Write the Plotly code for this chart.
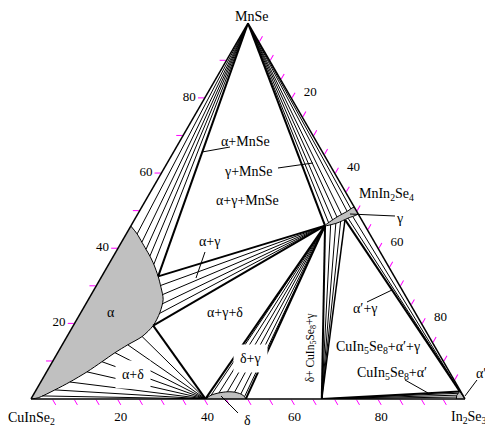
import plotly.graph_objects as go

FONT = "Liberation Serif"

# ---------------- compositions (mol %) ----------------
# a = MnSe, c = In2Se3 ; CuInSe2 = 100 - a - c
# single-phase regions (outlines)
ALPHA_A = [46.0, 43.9, 41.7, 39.8, 38.0, 35.8, 32.6, 29.7, 26.5, 23.0, 19.5, 16.6, 14.4, 12.3, 9.9, 7.2, 4.5, 2.4, 0.3, 0.0]
ALPHA_C = [0.0, 2.5, 4.7, 6.6, 8.4, 10.4, 13.0, 15.1, 17.2, 18.2, 18.4, 17.3, 15.1, 13.2, 11.4, 9.3, 6.7, 4.3, 1.5, 0.0]
GAMMA_A = [46.1, 48.4, 49.9, 51.0, 49.3, 48.1, 46.8, 46.1]
GAMMA_C = [44.7, 46.3, 47.9, 49.0, 50.7, 49.0, 47.1, 44.7]
DELTA_A = [0.0, 1.0, 1.6, 1.9, 1.8, 1.3, 0.6, 0.0]
DELTA_C = [40.2, 41.0, 42.5, 44.3, 46.0, 47.7, 48.9, 49.5]
ALPHAP_A = [0.0, 2.0, 1.0, 0.0]
ALPHAP_C = [100.0, 97.8, 97.6, 98.0]

# invariant / corner points (a, c)
MNSE = (100.0, 0.0)
A1 = (32.6, 13.0)   # alpha corner of alpha+gamma+MnSe
A2 = (19.5, 18.4)   # alpha corner of alpha+gamma+delta
G = (46.1, 44.7)    # gamma corner
G2 = (47.7, 48.5)   # gamma corner of CuIn5Se8+alpha'+gamma
D1 = (0.0, 40.2)    # delta, left end
D2 = (0.0, 49.5)    # delta, right end
C1 = (0.0, 67.0)    # CuIn5Se8
P = (2.0, 97.8)     # alpha' corner

# tie-line ends
TL_ALPHA_MNSE_A = [43.9, 41.7, 39.8, 38.0, 35.8]
TL_ALPHA_MNSE_C = [2.5, 4.7, 6.6, 8.4, 10.4]
TL_GAMMA_MNSE_A = [46.8, 47.6, 48.4, 49.1, 49.9, 50.5]
TL_GAMMA_MNSE_C = [45.2, 45.7, 46.3, 47.0, 47.9, 48.5]
TL_ALPHA_GAMMA_A = [30.2, 27.8, 25.3, 22.8]
TL_ALPHA_GAMMA_C = [14.8, 16.5, 17.6, 18.3]
TL_ALPHA_DELTA_A = [16.6, 14.4, 12.3, 9.9, 7.2, 4.5, 2.4, 0.8]
TL_ALPHA_DELTA_C = [17.3, 15.1, 13.2, 11.4, 9.3, 6.7, 4.3, 2.2]
TL_DELTA_GAMMA_A = [1.0, 1.6, 1.9, 1.8, 1.3, 0.6]
TL_DELTA_GAMMA_C = [41.0, 42.5, 44.3, 46.0, 47.7, 48.9]
TL_CIS8_GAMMA_A = [46.5, 46.9, 47.3]
TL_CIS8_GAMMA_C = [45.8, 46.8, 47.7]
TL_APG_GAMMA_A = [48.1, 48.6]
TL_APG_GAMMA_C = [49.0, 49.8]
TL_APG_AP_A = [1.5, 1.0]
TL_APG_AP_C = [98.3, 98.8]
TL_CIS8_AP_A = [1.5, 1.0, 0.5]
TL_CIS8_AP_C = [97.7, 97.6, 97.8]

# axis ticks and labels
NB = "\u00a0\u00a0"
A_TICKS = [10, 20, 30, 40, 50, 60, 70, 80, 90]
A_TEXT = ["", "20", "", "40", "", "60", "", "80", ""]
B_TICKS = [5, 10, 15, 20, 25, 30, 35, 40, 45, 50, 55, 60, 65, 70, 75, 80, 85, 90, 95]
B_TEXT = ["", "", "", "80", "", "", "", "60", "", "", "", "40", "", "", "", "20", "", "", ""]
C_TICKS = [5, 10, 15, 20, 25, 30, 35, 40, 45, 50, 55, 60, 65, 70, 75, 80, 85, 90, 95]
C_TEXT = ["", "", "", NB + "20", "", "", "", NB + "40", "", "", "", NB + "60", "", "", "", NB + "80", "", "", ""]


def pts(alist, clist):
    return list(zip(alist, clist))


def seg_trace(segs, width):
    a, b, c = [], [], []
    for (pa, pc), (qa, qc) in segs:
        a += [pa, qa, None]
        c += [pc, qc, None]
        b += [100 - pa - pc, 100 - qa - qc, None]
    return go.Scatterternary(a=a, b=b, c=c, mode="lines",
                             line=dict(color="black", width=width),
                             hoverinfo="skip", showlegend=False)


def region(alist, clist, smooth=True):
    return go.Scatterternary(a=alist, c=clist, b=[100 - x - y for x, y in zip(alist, clist)],
                             mode="lines", fill="toself", fillcolor="#c0c0c0",
                             line=dict(color="black", width=1,
                                       shape="spline" if smooth else "linear", smoothing=0.8),
                             hoverinfo="skip", showlegend=False)


thin = []
thin += [(MNSE, p) for p in pts(TL_ALPHA_MNSE_A, TL_ALPHA_MNSE_C)]
thin += [(MNSE, p) for p in pts(TL_GAMMA_MNSE_A, TL_GAMMA_MNSE_C)]
thin += [(p, G) for p in pts(TL_ALPHA_GAMMA_A, TL_ALPHA_GAMMA_C)]
thin += [(p, D1) for p in pts(TL_ALPHA_DELTA_A, TL_ALPHA_DELTA_C)]
thin += [(p, G) for p in pts(TL_DELTA_GAMMA_A, TL_DELTA_GAMMA_C)]
thin += [(C1, p) for p in pts(TL_CIS8_GAMMA_A, TL_CIS8_GAMMA_C)]
thin += list(zip(pts(TL_APG_GAMMA_A, TL_APG_GAMMA_C), pts(TL_APG_AP_A, TL_APG_AP_C)))
thin += [(C1, p) for p in pts(TL_CIS8_AP_A, TL_CIS8_AP_C)]

thick = [(MNSE, A1), (MNSE, G), (A1, G), (A2, G), (A2, D1), (G, D1),
         (G, D2), (G, C1), (C1, P), (G2, P)]
medium = [(C1, G2)]

fig = go.Figure()
fig.add_trace(region(ALPHA_A, ALPHA_C))
fig.add_trace(region(DELTA_A, DELTA_C))
fig.add_trace(seg_trace(thin, 1))
fig.add_trace(seg_trace(medium, 1.5))
fig.add_trace(seg_trace(thick, 2))
fig.add_trace(region(GAMMA_A, GAMMA_C))
fig.add_trace(region(ALPHAP_A, ALPHAP_C, smooth=False))

tickfont = dict(family=FONT, size=13, color="black")


def axis(vals, text):
    return dict(tickmode="array", tickvals=vals, ticktext=text, ticks="outside",
                ticklen=6, tickwidth=1, tickcolor="#ff00ff", showgrid=False,
                showline=True, linecolor="black", linewidth=1.5,
                tickfont=tickfont, title=dict(text=""), min=0)


# the page body adds an 8 px offset, so the figure is sized to the remaining window
fig.update_layout(
    width=485, height=420, autosize=False,
    margin=dict(l=23, r=28, t=15, b=29),
    paper_bgcolor="white",
    ternary=dict(sum=100, bgcolor="white", domain=dict(x=[0, 1], y=[0, 1]),
                 aaxis=axis(A_TICKS, A_TEXT),
                 baxis=axis(B_TICKS, B_TEXT),
                 caxis=axis(C_TICKS, C_TEXT)),
    showlegend=False,
)

# (text, x, y, angle, background, size, xanchor, yanchor)
LABELS = [
    ("MnSe", 0.507, 1.0399, 0, None, 14, "center", "top"),
    ("CuInSe<sub>2</sub>", 0.002, -0.051, 0, None, 14, "center", "middle"),
    ("In<sub>2</sub>Se<sub>3</sub>", 1.053, -0.048, 0, None, 14, "right", "middle"),
    ("α+MnSe", 0.495, 0.684, 0, None, 14, "center", "middle"),
    ("γ+MnSe", 0.500, 0.604, 0, None, 14, "center", "middle"),
    ("α+γ+MnSe", 0.498, 0.529, 0, None, 14, "center", "middle"),
    ("MnIn<sub>2</sub>Se<sub>4</sub>", 0.818, 0.543, 0, None, 14, "center", "middle"),
    ("γ", 0.848, 0.481, 0, None, 14, "center", "middle"),
    ("α+γ", 0.412, 0.418, 0, None, 14, "center", "middle"),
    ("α", 0.184, 0.229, 0, None, 14, "center", "middle"),
    ("α+γ+δ", 0.447, 0.229, 0, None, 14, "center", "middle"),
    ("α+δ", 0.235, 0.064, 0, "white", 14, "center", "middle"),
    ("δ+γ", 0.505, 0.109, 0, "white", 14, "center", "middle"),
    ("δ", 0.498, -0.058, 0, None, 14, "center", "middle"),
    ("δ+ CuIn<sub>5</sub>Se<sub>8</sub>+γ", 0.644, 0.136, -90, None, 11.5, "center", "middle"),
    ("α′+γ", 0.770, 0.242, 0, None, 14, "center", "middle"),
    ("CuIn<sub>5</sub>Se<sub>8</sub>+α′+γ", 0.800, 0.138, 0, None, 14, "center", "middle"),
    ("CuIn<sub>5</sub>Se<sub>8</sub>+α′", 0.832, 0.069, 0, None, 14, "center", "middle"),
    ("α′", 1.037, 0.069, 0, None, 14, "center", "middle"),
]
for txt, x, y, ang, bg, size, xa, ya in LABELS:
    ann = dict(text=txt, x=x, y=y, xref="paper", yref="paper", showarrow=False,
               textangle=ang, xanchor=xa, yanchor=ya, borderpad=0,
               font=dict(family=FONT, size=size, color="black"))
    if bg:
        ann.update(bgcolor=bg, borderpad=6)
    fig.add_annotation(**ann)

LEADERS = [
    (0.4585, 0.6702, 0.394, 0.6569),
    (0.5691, 0.6144, 0.6498, 0.6277),
    (0.4009, 0.3910, 0.3802, 0.3218),
    (0.8387, 0.4867, 0.7350, 0.4920),
    (0.4378, 0.0080, 0.4770, -0.0372),
    (0.7742, 0.2580, 0.8318, 0.2899),
    (0.8618, 0.0505, 0.9147, 0.0160),
    (1.0276, 0.0505, 1.0000, 0.0080),
]
for x0, y0, x1, y1 in LEADERS:
    fig.add_shape(type="line", xref="paper", yref="paper", x0=x0, y0=y0, x1=x1, y1=y1,
                  line=dict(color="black", width=1))

fig.write_html("out.html")
